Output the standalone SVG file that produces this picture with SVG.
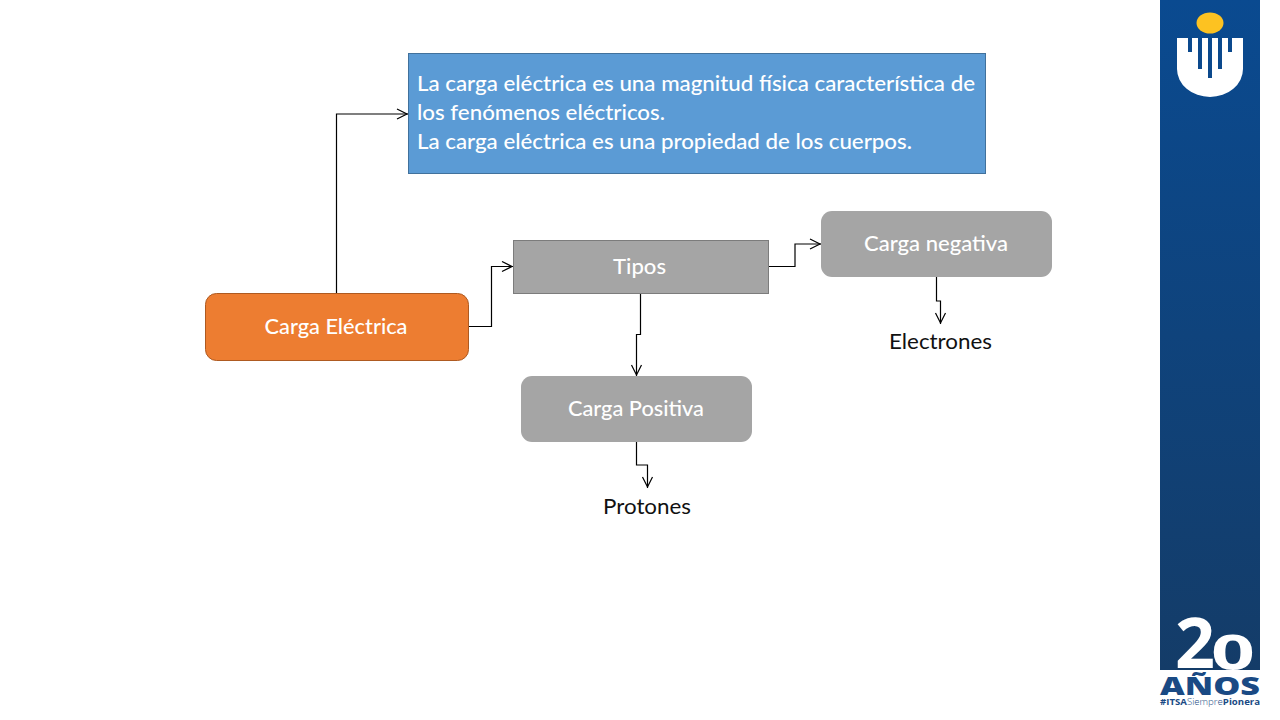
<svg xmlns="http://www.w3.org/2000/svg" width="1280" height="720" viewBox="0 0 1280 720">
<style>
.t{font-family:"Lato","Carlito","Open Sans",sans-serif;font-size:20.5px;font-weight:500;fill:#fff;text-anchor:middle}
.b{font-family:"Lato","Carlito","Open Sans",sans-serif;font-size:21px;font-weight:500;fill:#fff}
.k{font-family:"Lato","Carlito","Open Sans",sans-serif;font-size:21.5px;fill:#111;text-anchor:middle}
.l{font-family:"Open Sans",sans-serif}
.c{fill:none;stroke:#000;stroke-width:1.2}
.g{fill:#a5a5a5}
</style>
<defs>
<linearGradient id="side" x1="0" y1="0" x2="0" y2="1"><stop offset="0" stop-color="#0a4a90"/><stop offset="1" stop-color="#143c68"/></linearGradient>
<marker id="a" markerWidth="14" markerHeight="14" refX="12" refY="6" orient="auto" markerUnits="userSpaceOnUse"><path d="M1 1L11 6L1 11" fill="none" stroke="#000" stroke-width="1.2"/></marker>
</defs>
<rect width="1280" height="720" fill="#fff"/>
<g id="side-panel">
<rect x="1160" y="0" width="100" height="670" fill="url(#side)"/>
<ellipse cx="1210" cy="23" rx="13.500" ry="10.500" fill="#fdc221"/>
<path d="M1177 38H1188V52H1192V38H1198V69H1202V38H1208V78H1212V38H1218V69H1222V38H1228V52H1232V38H1243V69A33 28 0 0 1 1177 69Z" fill="#fff"/>
<text class="l" x="1175" y="668" font-size="70" font-weight="700" fill="#fff">2</text>
<text class="l" transform="translate(1211 670) scale(1.6 1)" font-size="48" font-weight="700" fill="#fff">0</text>
<text class="l" x="1210" y="695" font-size="24" font-weight="800" fill="#1a4a84" text-anchor="middle" textLength="100" lengthAdjust="spacingAndGlyphs">AÑOS</text>
<text class="l" x="1210" y="704.500" font-size="8.500" font-weight="700" fill="#1a4a84" text-anchor="middle" textLength="100" lengthAdjust="spacingAndGlyphs">#ITSA<tspan font-weight="300">Siempre</tspan>Pionera</text>
</g>
<g id="connectors">
<path class="c" d="M336.500 293V114H408" marker-end="url(#a)"/>
<path class="c" d="M469 326.500H491.500V266.500H513" marker-end="url(#a)"/>
<path class="c" d="M769 266.500H795V244H821" marker-end="url(#a)"/>
<path class="c" d="M640.500 293V334.500H636.500V376" marker-end="url(#a)"/>
<path class="c" d="M936.500 277V301H940.500V324" marker-end="url(#a)"/>
<path class="c" d="M636.500 442V465H647.500V488" marker-end="url(#a)"/>
</g>
<g id="definition">
<rect x="408.500" y="53.500" width="577" height="120" fill="#5b9bd5" stroke="#41719c"/>
<text class="b" x="417" y="91" textLength="558" lengthAdjust="spacingAndGlyphs">La carga eléctrica es una magnitud física característica de</text>
<text class="b" x="417" y="120" textLength="248" lengthAdjust="spacingAndGlyphs">los fenómenos eléctricos.</text>
<text class="b" x="417" y="149" textLength="495" lengthAdjust="spacingAndGlyphs">La carga eléctrica es una propiedad de los cuerpos.</text>
</g>
<g id="carga-electrica">
<rect x="205.500" y="293.500" width="263" height="67" rx="11" fill="#ed7d31" stroke="#ae5a21"/>
<text class="t" x="336" y="334" textLength="143" lengthAdjust="spacingAndGlyphs">Carga Eléctrica</text>
</g>
<g id="tipos">
<rect x="513.500" y="240.500" width="255" height="53" class="g" stroke="#7c7c7c"/>
<text class="t" x="639.500" y="274" textLength="53" lengthAdjust="spacingAndGlyphs">Tipos</text>
</g>
<g id="carga-negativa">
<rect x="821" y="211" width="231" height="66" rx="11" class="g"/>
<text class="t" x="936" y="251" textLength="144" lengthAdjust="spacingAndGlyphs">Carga negativa</text>
</g>
<g id="carga-positiva">
<rect x="521" y="376" width="231" height="66" rx="11" class="g"/>
<text class="t" x="636" y="416" textLength="136" lengthAdjust="spacingAndGlyphs">Carga Positiva</text>
</g>
<g id="electrones"><text class="k" x="940.500" y="349" textLength="103" lengthAdjust="spacingAndGlyphs">Electrones</text></g>
<g id="protones"><text class="k" x="647" y="514" textLength="88" lengthAdjust="spacingAndGlyphs">Protones</text></g>
</svg>
